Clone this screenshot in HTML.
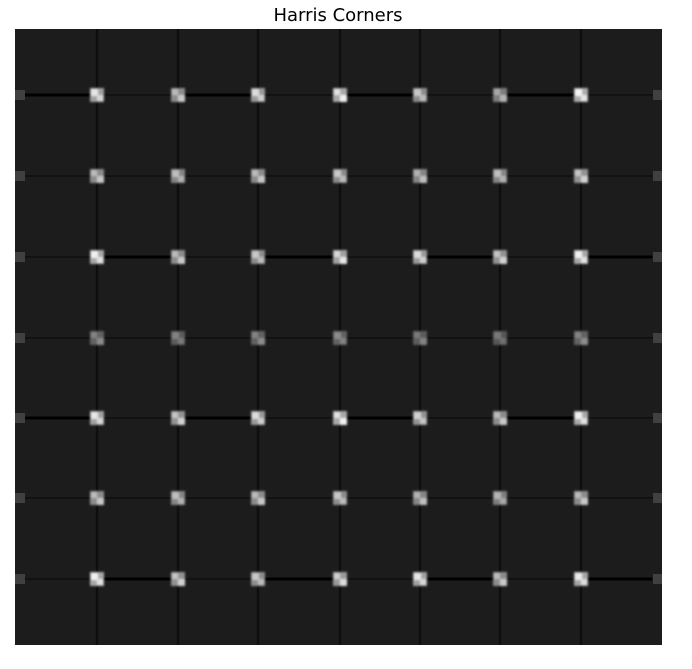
<!DOCTYPE html>
<html><head><meta charset="utf-8"><style>
html,body{margin:0;padding:0;background:#fff;width:692px;height:669px;overflow:hidden}
svg{display:block}
</style></head><body>
<svg width="692" height="669">
<defs><filter id="bl" x="-50%" y="-50%" width="200%" height="200%"><feGaussianBlur stdDeviation="1"/></filter></defs>
<text x="338" y="21" text-anchor="middle" font-family="DejaVu Sans, Liberation Sans, sans-serif" font-size="18" fill="#000">Harris Corners</text>
<rect x="15" y="29" width="647" height="616" fill="#1c1c1c"/>
<g id="lines"></g>
<g id="marks"></g>
</svg>
<script>
const colCenters = [97,178,258,340,420,500,581];
const rowCenters = [95,176,257,338,418,498,579];
const strength = [
 [230,200,220,240,200,180,245],
 [200,190,200,200,190,190,210],
 [240,200,200,230,220,210,240],
 [140,130,140,140,130,120,140],
 [230,210,220,240,210,200,240],
 [200,190,200,200,190,180,200],
 [240,210,200,220,230,200,235]
];
const NS='http://www.w3.org/2000/svg';
const L=document.getElementById('lines'), M=document.getElementById('marks');
const x0=15,x1=662,y0=29,y1=645;
function mk(t,a){const e=document.createElementNS(NS,t);for(const k in a)e.setAttribute(k,a[k]);return e;}
colCenters.forEach((x,i)=>{
 const l=mk('line',{x1:x,x2:x,y1:y0,y2:y1,stroke:'#0e0e0e','stroke-width':2.5});
 
 
 L.appendChild(l);
});
rowCenters.forEach((y,r)=>{
 const l=mk('line',{x1:x0,x2:x1,y1:y,y2:y,stroke:'#121212','stroke-width':2});
 
 
 L.appendChild(l);
 if(r%2===0){
  const bounds=[x0+10].concat(colCenters).concat([x1-10]);
  for(let k=0;k<bounds.length-1;k++){
   if((k+(r/2))%2===0){
    const s=mk('line',{x1:bounds[k],x2:bounds[k+1],y1:y,y2:y,stroke:'#000','stroke-width':3});
    
    
    L.appendChild(s);
   }
  }
 }
 const e1=mk('rect',{x:15,y:y-5,width:10,height:10,fill:'#404040'});
 
 
 M.appendChild(e1);
 const e2=mk('rect',{x:653,y:y-5,width:9,height:10,fill:'#404040'});
 
 
 M.appendChild(e2);
});
rowCenters.forEach((y,r)=>{
 colCenters.forEach((x,c)=>{
  const v=strength[r][c];
  const g=mk('g',{filter:'url(#bl)'});
  
  
  const hi='rgb('+v+','+v+','+v+')';
  const lo=Math.round(v*0.7),lc='rgb('+lo+','+lo+','+lo+')';
  g.appendChild(mk('rect',{x:x-7,y:y-7,width:14,height:14,fill:lc}));
  const off=((r+c)%2===0)?[x-6,y-6]:[x,y];
  g.appendChild(mk('rect',{x:off[0],y:off[1],width:7,height:7,fill:hi}));
  const off2=((r+c)%2===0)?[x,y]:[x-6,y-6];
  g.appendChild(mk('rect',{x:off2[0],y:off2[1],width:6,height:6,fill:hi,opacity:0.8}));
  M.appendChild(g);
 });
});
</script>
</body></html>
